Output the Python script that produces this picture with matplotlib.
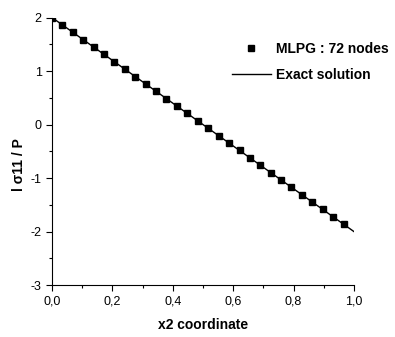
import matplotlib
matplotlib.use("Agg")
import matplotlib.pyplot as plt
from matplotlib.ticker import MultipleLocator, FuncFormatter

plt.rcParams['font.family'] = ['Liberation Sans', 'DejaVu Sans']

# MLPG nodal results
mlpg_x = [0.000, 0.034, 0.069, 0.103, 0.138, 0.172, 0.207, 0.241, 0.276, 0.310,
          0.345, 0.379, 0.414, 0.448, 0.483, 0.517, 0.552, 0.586, 0.621, 0.655,
          0.690, 0.724, 0.759, 0.793, 0.828, 0.862, 0.897, 0.931, 0.966]
mlpg_y = [2.000, 1.862, 1.724, 1.586, 1.448, 1.310, 1.172, 1.034, 0.897, 0.759,
          0.621, 0.483, 0.345, 0.207, 0.069, -0.069, -0.207, -0.345, -0.483, -0.621,
          -0.759, -0.897, -1.034, -1.172, -1.310, -1.448, -1.586, -1.724, -1.862]

# Exact solution endpoints
exact_x = [0.0, 1.0]
exact_y = [2.0, -2.0]

fig = plt.figure(figsize=(3.95, 3.37), dpi=100)
ax = fig.add_axes([0.1316, 0.154, 0.7645, 0.794])

ax.plot(exact_x, exact_y, color='black', lw=1.0, label='Exact solution', zorder=2)
ax.plot(mlpg_x, mlpg_y, 's', color='black', ms=4.7, label='MLPG : 72 nodes', zorder=3)

ax.set_xlim(0, 1.0)
ax.set_ylim(-3, 2)
ax.spines['top'].set_visible(False)
ax.spines['right'].set_visible(False)
ax.xaxis.set_major_locator(MultipleLocator(0.2))
ax.xaxis.set_minor_locator(MultipleLocator(0.1))
ax.yaxis.set_major_locator(MultipleLocator(1))
ax.yaxis.set_minor_locator(MultipleLocator(0.5))
ax.xaxis.set_major_formatter(FuncFormatter(lambda v, p: f"{v:.1f}".replace('.', ',')))
ax.yaxis.set_major_formatter(FuncFormatter(lambda v, p: f"{int(round(v))}"))
ax.tick_params(which='major', direction='out', length=4, width=0.8, labelsize=9)
ax.tick_params(which='minor', direction='out', length=2.5, width=0.8)
for s in ax.spines.values():
    s.set_linewidth(0.8)

ax.set_xlabel('x2 coordinate', fontsize=10, fontweight='bold')
ax.xaxis.set_label_coords(0.5, -0.122)
ax.set_ylabel('l σ11 / P', fontsize=10, fontweight='bold')
ax.yaxis.set_label_coords(-0.087, 0.45)

handles, labels = ax.get_legend_handles_labels()
leg = ax.legend(handles[::-1], labels[::-1], loc='upper right', bbox_to_anchor=(1.135, 0.93),
                frameon=False, prop={'weight': 'bold', 'size': 10},
                handlelength=2.8, handletextpad=0.4, labelspacing=0.9, borderaxespad=0)

fig.savefig('out.png', dpi=100)
